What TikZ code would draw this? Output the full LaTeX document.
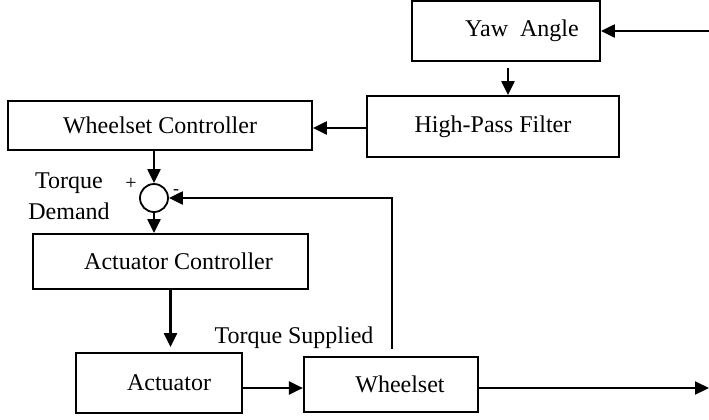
\documentclass[tikz,border=0pt]{standalone}
\usepackage{fontspec}
\setmainfont{Liberation Serif}
\usetikzlibrary{arrows.meta, positioning, calc}

\begin{document}
\begin{tikzpicture}[
        x=0.5pt, y=-0.5pt,
        every node/.style={font=\fontsize{12pt}{15.5pt}\selectfont},
        block/.style={draw, line width=0.9pt, inner sep=0pt},
        sumnode/.style={circle, draw, line width=0.9pt, minimum size=14pt, inner sep=0pt},
        sig/.style={line width=1.1pt, -{Triangle[length=7pt,width=6.5pt]}}
    ]
    \useasboundingbox (0,0) rectangle (709,419);

    % Blocks
    \node[block, minimum width=94pt, minimum height=30pt] (yaw) at (506,31) {\hspace*{16pt}Yaw\ \ Angle};
    \node[block, minimum width=126pt, minimum height=30.5pt] (hpf) at (493,126.5) {High-Pass Filter};
    \node[block, minimum width=152pt, minimum height=24.5pt] (wc) at (160,125.5) {Wheelset Controller};
    \node[sumnode] (sum) at (154,198) {};
    \node[block, minimum width=137.5pt, minimum height=27.5pt] (ac) at (170.5,261.5) {\hspace*{8pt}Actuator Controller};
    \node[block, minimum width=83pt, minimum height=30pt] (act) at (159,383) {\hspace*{10pt}Actuator};
    \node[block, line width=1.1pt, minimum width=87pt, minimum height=27.5pt] (ws) at (391,384.5) {\hspace*{9pt}Wheelset};

    % Labels
    \node[align=center] (demand) at (69,196.5) {Torque\\Demand};
    \node[font=\fontsize{10pt}{12pt}\selectfont] (plus) at (131,184) {+};
    \node[font=\fontsize{9pt}{10pt}\selectfont, inner sep=0pt] (minus) at (176,192) {-};
    \node (supplied) at (294,338) {Torque Supplied};

    % Free ends
    \coordinate (yawin) at (709,31);
    \coordinate (wsout) at (709,388);

    % Signals
    \draw[sig] (yawin) -- (yaw.east);
    \draw[sig] ([xshift=1pt,yshift=-3pt]yaw.south) -- ([xshift=1pt]yaw.south |- hpf.north);
    \draw[sig] ([yshift=-0.75pt]hpf.west) -- ([yshift=-0.75pt]hpf.west -| wc.east);
    \draw[sig] (sum.north |- wc.south) -- (sum.north);
    \draw[sig] (sum.south) -- (sum.south |- ac.north);
    \draw[sig, shorten >=2.5pt] (ac.south) -- (ac.south |- act.north);
    \draw[sig] ([yshift=-2.5pt]act.east) -- ([yshift=-2.5pt]act.east -| ws.west);
    \draw[sig] ([yshift=-1.75pt]ws.east) -- (wsout);

    % Feedback
    \draw[sig] ([xshift=0.5pt,yshift=3.5pt]ws.north) |- (sum.east);

\end{tikzpicture}
\end{document}
